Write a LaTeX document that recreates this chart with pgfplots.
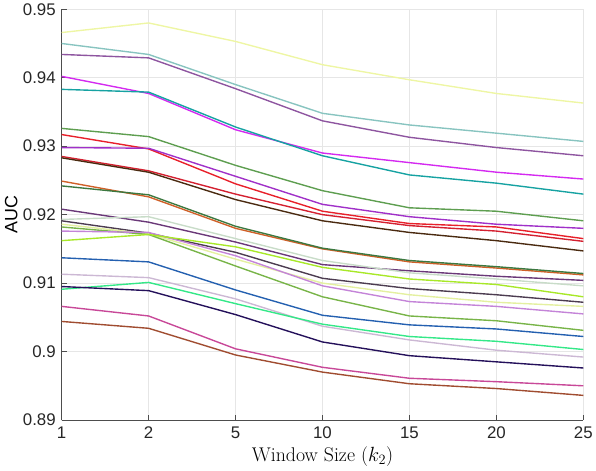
\documentclass[border=0pt]{standalone}
\usepackage{pgfplots}
\pgfplotsset{compat=1.18}
\usepackage{pgfplotstable}
\usepackage{fontspec}
\newfontfamily\arialf{Liberation Sans}

\definecolor{c1}{HTML}{EEF6A4}
\definecolor{c2}{HTML}{88C4C0}
\definecolor{c3}{HTML}{8E55A0}
\definecolor{c4}{HTML}{D42AF0}
\definecolor{c5}{HTML}{16A2A2}
\definecolor{c6}{HTML}{5E9E50}
\definecolor{c7}{HTML}{E8202A}
\definecolor{c8}{HTML}{A030C8}
\definecolor{c9}{HTML}{D42030}
\definecolor{c10}{HTML}{4A2A10}
\definecolor{c11}{HTML}{D06028}
\definecolor{c12}{HTML}{3C7840}
\definecolor{c13}{HTML}{6A3878}
\definecolor{c14}{HTML}{C8DCC8}
\definecolor{c15}{HTML}{4C3C50}
\definecolor{c16}{HTML}{E4F0A0}
\definecolor{c17}{HTML}{78B448}
\definecolor{c18}{HTML}{C484D8}
\definecolor{c19}{HTML}{A8E828}
\definecolor{c20}{HTML}{2460B0}
\definecolor{c21}{HTML}{CCB8D4}
\definecolor{c22}{HTML}{34E888}
\definecolor{c23}{HTML}{24105A}
\definecolor{c24}{HTML}{C84898}
\definecolor{c25}{HTML}{A04C30}
\definecolor{gridc}{HTML}{E6E6E6}
\definecolor{axc}{HTML}{4D4D4D}

\pgfplotstableread{
x s1 s2 s3 s4 s5 s6 s7 s8 s9 s10 s11 s12 s13
0 0.9466 0.9450 0.9434 0.9402 0.9383 0.9326 0.9317 0.9298 0.9285 0.9283 0.9249 0.9242 0.9208
1 0.9480 0.9434 0.9429 0.9377 0.9379 0.9314 0.9296 0.9297 0.9264 0.9262 0.9226 0.9229 0.9189
2 0.9453 0.9390 0.9384 0.9324 0.9328 0.9272 0.9245 0.9256 0.9230 0.9222 0.9180 0.9183 0.9160
3 0.9419 0.9348 0.9337 0.9290 0.9286 0.9235 0.9205 0.9215 0.9200 0.9191 0.9150 0.9151 0.9127
4 0.9397 0.9331 0.9313 0.9276 0.9258 0.9210 0.9187 0.9197 0.9184 0.9174 0.9131 0.9133 0.9118
5 0.9377 0.9319 0.9298 0.9262 0.9246 0.9205 0.9182 0.9186 0.9176 0.9162 0.9122 0.9124 0.9110
6 0.9363 0.9307 0.9286 0.9252 0.9230 0.9191 0.9165 0.9180 0.9161 0.9147 0.9112 0.9114 0.9104
}\tA
\pgfplotstableread{
x s14 s15 s16 s17 s18 s19 s20 s21 s22 s23 s24 s25
0 0.9193 0.9191 0.9186 0.9182 0.9176 0.9162 0.9137 0.9113 0.9091 0.9095 0.9066 0.9044
1 0.9197 0.9173 0.9172 0.9171 0.9174 0.9171 0.9131 0.9108 0.9101 0.9089 0.9052 0.9034
2 0.9165 0.9145 0.9135 0.9125 0.9140 0.9153 0.9090 0.9077 0.9070 0.9054 0.9004 0.8995
3 0.9133 0.9107 0.9100 0.9080 0.9096 0.9123 0.9053 0.9037 0.9040 0.9014 0.8977 0.8970
4 0.9115 0.9092 0.9083 0.9052 0.9073 0.9106 0.9039 0.9017 0.9022 0.8994 0.8961 0.8953
5 0.9106 0.9083 0.9072 0.9045 0.9066 0.9098 0.9033 0.9002 0.9015 0.8985 0.8956 0.8946
6 0.9096 0.9072 0.9066 0.9031 0.9055 0.9080 0.9022 0.8992 0.9003 0.8976 0.8950 0.8936
}\tB

\begin{document}
\begin{tikzpicture}
\begin{axis}[
  scale only axis,
  width=524.5bp, height=413bp,
  xmin=0, xmax=6, ymin=0.89, ymax=0.95,
  xtick={0,1,2,3,4,5,6},
  xticklabels={1,2,5,10,15,20,25},
  ytick={0.89,0.90,0.91,0.92,0.93,0.94,0.95},
  yticklabels={0.89,0.9,0.91,0.92,0.93,0.94,0.95},
  tick label style={font=\arialf\fontsize{17}{17}\selectfont, text=black!85},
  xticklabel style={yshift=-3bp},
  yticklabel style={xshift=-2.5bp},
  grid=major,
  major grid style={gridc, line width=0.6pt},
  axis line style={axc, line width=0.7pt},
  tick style={axc, line width=0.7pt},
  tick align=inside,
  major tick length=5bp,
  xtick pos=bottom, ytick pos=left,
  axis x line*=bottom, axis y line*=left,
  xlabel={\fontsize{20}{20}\selectfont Window Size ($k_2$)},
  ylabel={\arialf\fontsize{18}{18}\selectfont AUC},
  xlabel style={yshift=-1bp},
  ylabel style={yshift=-1.5bp},
  every axis plot/.append style={line width=1.4pt},
]
\addplot[c1] table[x=x,y=s1]{\tA};
\addplot[c2] table[x=x,y=s2]{\tA};
\addplot[c3] table[x=x,y=s3]{\tA};
\addplot[c4] table[x=x,y=s4]{\tA};
\addplot[c5] table[x=x,y=s5]{\tA};
\addplot[c6] table[x=x,y=s6]{\tA};
\addplot[c7] table[x=x,y=s7]{\tA};
\addplot[c8] table[x=x,y=s8]{\tA};
\addplot[c9] table[x=x,y=s9]{\tA};
\addplot[c10] table[x=x,y=s10]{\tA};
\addplot[c11] table[x=x,y=s11]{\tA};
\addplot[c12] table[x=x,y=s12]{\tA};
\addplot[c13] table[x=x,y=s13]{\tA};
\addplot[c14] table[x=x,y=s14]{\tB};
\addplot[c15] table[x=x,y=s15]{\tB};
\addplot[c16] table[x=x,y=s16]{\tB};
\addplot[c17] table[x=x,y=s17]{\tB};
\addplot[c18] table[x=x,y=s18]{\tB};
\addplot[c19] table[x=x,y=s19]{\tB};
\addplot[c20] table[x=x,y=s20]{\tB};
\addplot[c21] table[x=x,y=s21]{\tB};
\addplot[c22] table[x=x,y=s22]{\tB};
\addplot[c23] table[x=x,y=s23]{\tB};
\addplot[c24] table[x=x,y=s24]{\tB};
\addplot[c25] table[x=x,y=s25]{\tB};
\end{axis}
\path ([xshift=-62bp,yshift=-51bp]current axis.south west) -- ([xshift=8bp,yshift=7bp]current axis.north east);
\end{tikzpicture}
\end{document}
